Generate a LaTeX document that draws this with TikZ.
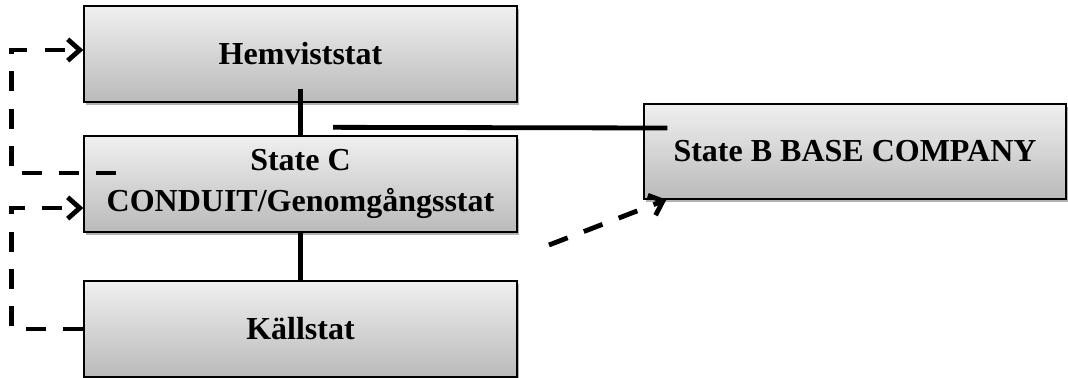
\documentclass[tikz,border=0pt]{standalone}
\usepackage{fontspec}
\setmainfont{Liberation Serif}
\usetikzlibrary{arrows.meta,shadows,calc}
\begin{document}
\begin{tikzpicture}[x=0.75pt,y=-0.75pt,
  box/.style={draw=black, line width=1pt, top color=black!6, bottom color=black!27,
    minimum width=324.75pt, minimum height=72pt, inner sep=0pt,
    font=\bfseries\fontsize{24}{30.75}\selectfont, align=center,
    drop shadow={shadow xshift=1.5pt, shadow yshift=-2pt, opacity=0.3, fill=black}},
  link/.style={line width=3.6pt},
  dlink/.style={line width=3.6pt, dash pattern=on 15pt off 13pt, line join=miter},
  tip/.style={-{Straight Barb[length=9pt,width=16pt]}}
]
\useasboundingbox (0,0) rectangle (1068,378);
\node[box] (h) at (300.5,54) {Hemviststat};
\node[box] (c) at (300.5,184) {State C\\CONDUIT/Genomgångsstat};
\node[box] (k) at (300.5,329) {Källstat};
\node[box, minimum width=316.5pt, minimum height=71.25pt] (b) at (855,151.5) {State B BASE COMPANY};

\coordinate (s) at (549,245);

\draw[link] ($(h.south)+(0,-14)$) -- (c.north);
\draw[link] (c.south) -- (k.north);
\draw[link] ($(c.north)+(32.5,-8)$) -- ($(b.west)+(24,-23.5)$);

\draw[dlink,tip] (k.west) -- ++(-72,0) |- ($(c.west)+(0,24)$);
\draw[dlink,tip] ($(c.west)+(33,-11)$) -- ++(-105,0) |- ($(h.west)+(0,-4)$);
\draw[dlink,tip] (s) -- ($(b.south west)+(23,0)$);
\end{tikzpicture}
\end{document}
